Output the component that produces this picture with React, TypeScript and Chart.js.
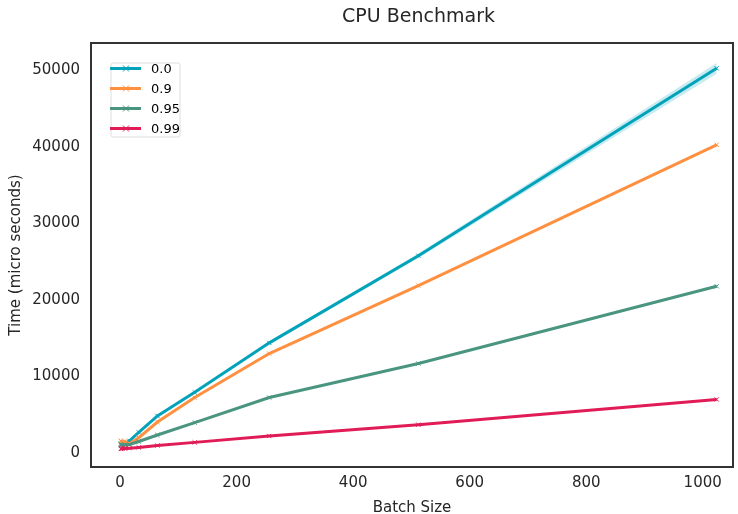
import React, { useEffect, useRef } from "react";
import { Chart, registerables } from "chart.js";

Chart.register(...registerables);

const batchSizes = [1, 2, 4, 8, 16, 32, 64, 128, 256, 512, 1024];
const seriesNames = ["0.0", "0.9", "0.95", "0.99"];
const series00 = [900, 800, 850, 900, 1300, 2400, 4550, 7630, 14100, 25500, 50000];
const series09 = [1300, 1200, 1100, 1200, 900, 1700, 3750, 6950, 12700, 21600, 40000];
const series095 = [800, 750, 700, 750, 800, 1200, 2050, 3680, 6950, 11400, 21500];
const series099 = [250, 250, 280, 300, 330, 430, 680, 1090, 1920, 3400, 6700];
const band00Lower = [850, 750, 800, 850, 1200, 2300, 4450, 7500, 13900, 25200, 49300];
const band00Upper = [950, 850, 900, 950, 1400, 2500, 4650, 7760, 14300, 25800, 50700];
const colors = ["#02a3ba", "#ff9040", "#4a9580", "#e01b55"];
const xTicks = [0, 200, 400, 600, 800, 1000];
const yTicks = [0, 10000, 20000, 30000, 40000, 50000];

const FONT = "'DejaVu Sans', sans-serif";

export default function App() {
  const ref = useRef<HTMLCanvasElement | null>(null);
  useEffect(() => {
    document.body.style.margin = "0";
    const canvas = ref.current;
    if (!canvas) return;
    const allSeries = [series00, series09, series095, series099];
    const toPts = (arr: number[]) => arr.map((v, i) => ({ x: batchSizes[i], y: v }));

    const datasets: any[] = [
      {
        label: "_band_lower",
        data: toPts(band00Lower),
        borderColor: "rgba(0,0,0,0)",
        pointRadius: 0,
        fill: false,
        order: 10,
      },
      {
        label: "_band_upper",
        data: toPts(band00Upper),
        borderColor: "rgba(0,0,0,0)",
        backgroundColor: "rgba(2,163,186,0.22)",
        pointRadius: 0,
        fill: "-1",
        order: 10,
      },
    ];
    allSeries.forEach((s, i) => {
      datasets.push({
        label: seriesNames[i],
        data: toPts(s),
        borderColor: colors[i],
        backgroundColor: colors[i],
        borderWidth: 3,
        pointStyle: "crossRot",
        pointRadius: 3,
        pointBorderWidth: 1,
        pointBorderColor: colors[i],
        fill: false,
        tension: 0,
        order: 5 - i,
      });
    });

    const framePlugin = {
      id: "frame",
      afterDraw(chart: any) {
        const { ctx, chartArea } = chart;
        const { left, top, right, bottom } = chartArea;
        ctx.save();
        ctx.strokeStyle = "#333333";
        ctx.lineWidth = 2;
        ctx.strokeRect(left, top, right - left, bottom - top);

        // title
        ctx.fillStyle = "#262626";
        ctx.font = `19px ${FONT}`;
        ctx.textAlign = "center";
        ctx.textBaseline = "middle";
        ctx.fillText("CPU Benchmark", 418.5, 17);

        // legend
        const bx = 111, by = 63, bw = 69, bh = 74;
        ctx.fillStyle = "rgba(255,255,255,0.8)";
        ctx.strokeStyle = "#dddddd";
        ctx.lineWidth = 1;
        ctx.beginPath();
        const r = 2;
        ctx.moveTo(bx + r, by);
        ctx.lineTo(bx + bw - r, by);
        ctx.arcTo(bx + bw, by, bx + bw, by + r, r);
        ctx.lineTo(bx + bw, by + bh - r);
        ctx.arcTo(bx + bw, by + bh, bx + bw - r, by + bh, r);
        ctx.lineTo(bx + r, by + bh);
        ctx.arcTo(bx, by + bh, bx, by + bh - r, r);
        ctx.lineTo(bx, by + r);
        ctx.arcTo(bx, by, bx + r, by, r);
        ctx.closePath();
        ctx.fill();
        ctx.stroke();
        seriesNames.forEach((name, i) => {
          const y = 68.5 + i * 20;
          ctx.strokeStyle = colors[i];
          ctx.lineWidth = 3;
          ctx.beginPath();
          ctx.moveTo(110, y);
          ctx.lineTo(141, y);
          ctx.stroke();
          ctx.lineWidth = 1;
          ctx.beginPath();
          ctx.moveTo(123, y - 3);
          ctx.lineTo(129, y + 3);
          ctx.moveTo(129, y - 3);
          ctx.lineTo(123, y + 3);
          ctx.stroke();
          ctx.fillStyle = "#000000";
          ctx.font = `13px ${FONT}`;
          ctx.textAlign = "left";
          ctx.textBaseline = "middle";
          ctx.fillText(name, 151, y + 1);
        });
        ctx.restore();
      },
    };

    const chart = new Chart(canvas, {
      type: "line",
      data: { datasets },
      options: {
        animation: false,
        responsive: false,
        maintainAspectRatio: false,
        layout: { padding: { top: 43, right: 3, left: 0, bottom: 0 } },
        plugins: {
          legend: { display: false },
          title: { display: false },
          tooltip: { enabled: false },
        },
        scales: {
          x: {
            type: "linear",
            min: -50,
            max: 1052,
            grid: { display: false, drawTicks: false },
            border: { display: false },
            afterBuildTicks: (scale: any) => {
              scale.ticks = xTicks.map((v) => ({ value: v }));
            },
            afterFit: (scale: any) => {
              scale.height = 47;
            },
            ticks: {
              padding: 7,
              color: "#262626",
              font: { family: FONT, size: 15 },
              maxRotation: 0,
              callback: (v: any) => String(v),
            },
            title: {
              display: true,
              text: "Batch Size",
              color: "#262626",
              font: { family: FONT, size: 15, lineHeight: 0.75 },
              padding: { top: 0, bottom: 0 },
            },
          },
          y: {
            type: "linear",
            min: -2130,
            max: 53310,
            grid: { display: false, drawTicks: false },
            border: { display: false },
            afterBuildTicks: (scale: any) => {
              scale.ticks = yTicks.map((v) => ({ value: v }));
            },
            afterFit: (scale: any) => {
              scale.width = 91;
            },
            ticks: {
              padding: 11,
              labelOffset: 2,
              color: "#262626",
              font: { family: FONT, size: 15 },
              callback: (v: any) => String(v),
            },
            title: {
              display: true,
              text: "Time (micro seconds)",
              color: "#262626",
              font: { family: FONT, size: 15 },
              padding: { top: 7, bottom: 0 },
            },
          },
        },
      },
      plugins: [framePlugin],
    });
    return () => chart.destroy();
  }, []);
  return (
    <div style={{ width: 738, height: 514, background: "#ffffff" }}>
      <canvas ref={ref} width={738} height={514} style={{ display: "block" }} />
    </div>
  );
}
